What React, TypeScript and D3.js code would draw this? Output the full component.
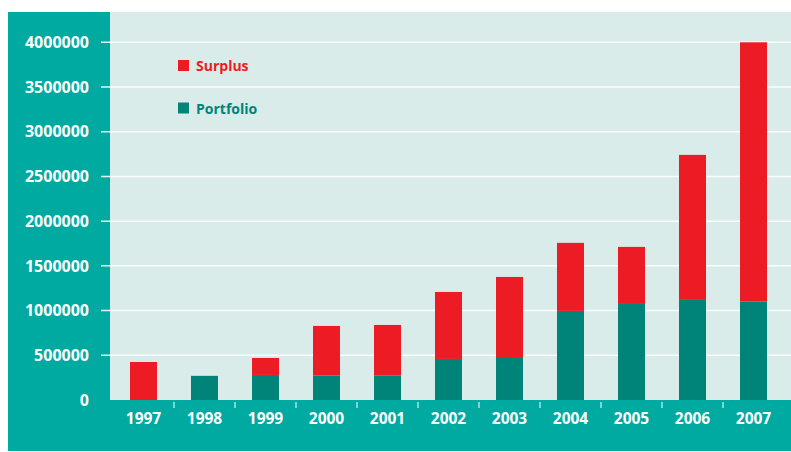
import React from 'react';
import * as d3 from 'd3';

const years = ['1997', '1998', '1999', '2000', '2001', '2002', '2003', '2004', '2005', '2006', '2007'];
const portfolio = [0, 270000, 280000, 275000, 272000, 459000, 481000, 996000, 1074000, 1119000, 1100000];
const surplus = [425000, 0, 190000, 553000, 567000, 749000, 895000, 761000, 638000, 1622000, 2900000];
const yTicks = [0, 500000, 1000000, 1500000, 2000000, 2500000, 3000000, 3500000, 4000000];

const W = 791;
const H = 452;
const FONT = '"Open Sans", "DejaVu Sans", sans-serif';
const TEAL = '#00aaa0';
const BG = '#d9ecea';
const RED = '#ed1c24';
const DARK = '#008379';

const App: React.FC = () => {
  const plot = { left: 110, right: 791, top: 12, bottom: 400 };

  const x = d3.scaleBand<string>().domain(years).range([113, 784]).padding(0);
  const y = d3.scaleLinear().domain([0, 4000000]).range([plot.bottom, 42.3]);
  const barW = 27;

  const rows = years.map((yr, i) => ({ year: yr, p: portfolio[i], s: surplus[i] }));
  const stack = d3.stack<{ year: string; p: number; s: number }>().keys(['p', 's'])(rows);
  const colors = [DARK, RED];

  return (
    <svg
      width={W}
      height={H}
      style={{ position: 'absolute', left: 0, top: 0, background: '#fff' }}
    >
      {/* outer teal frame and plot background */}
      <rect x={8} y={12} width={W - 8} height={439} fill={TEAL} />
      <rect x={plot.left} y={plot.top} width={plot.right - plot.left} height={plot.bottom - plot.top} fill={BG} />

      {/* gridlines + y labels */}
      {yTicks.map(t => (
        <g key={t}>
          {t > 0 && (
            <line
              x1={101}
              x2={plot.right}
              y1={y(t)}
              y2={y(t)}
              stroke="#ffffff"
              strokeWidth={1.5}
              strokeOpacity={0.9}
            />
          )}
          <text
            x={89}
            y={y(t)}
            dy="0.36em"
            textAnchor="end"
            fill="#ffffff"
            fontFamily={FONT}
            fontWeight={700}
            fontSize={16}
          >
            {t}
          </text>
        </g>
      ))}

      {/* stacked bars */}
      {stack.map((layer, li) =>
        layer.map((d, i) => {
          const h = y(d[0]) - y(d[1]);
          if (h <= 0) return null;
          return (
            <rect
              key={`${li}-${i}`}
              x={(x(years[i]) || 0) + x.bandwidth() / 2 - barW / 2}
              y={y(d[1])}
              width={barW}
              height={h}
              fill={colors[li]}
            />
          );
        })
      )}

      {/* x axis ticks and labels */}
      {years.map((yr, i) => (
        <g key={yr}>
          {i > 0 && (
            <line
              x1={x(yr) || 0}
              x2={x(yr) || 0}
              y1={402}
              y2={408}
              stroke="#ffffff"
              strokeWidth={1}
            />
          )}
          <text
            x={(x(yr) || 0) + x.bandwidth() / 2}
            y={418}
            dy="0.36em"
            textAnchor="middle"
            fill="#ffffff"
            fontFamily={FONT}
            fontWeight={700}
            fontSize={15.5}
          >
            {yr}
          </text>
        </g>
      ))}

      {/* legend */}
      <rect x={178} y={60} width={11} height={11} fill={RED} />
      <text x={196} y={71} fill={RED} fontFamily={FONT} fontWeight={700} fontSize={14}>
        Surplus
      </text>
      <rect x={178} y={102.5} width={11} height={11} fill={DARK} />
      <text x={196} y={113.5} fill={DARK} fontFamily={FONT} fontWeight={700} fontSize={14}>
        Portfolio
      </text>
    </svg>
  );
};

export default App;
